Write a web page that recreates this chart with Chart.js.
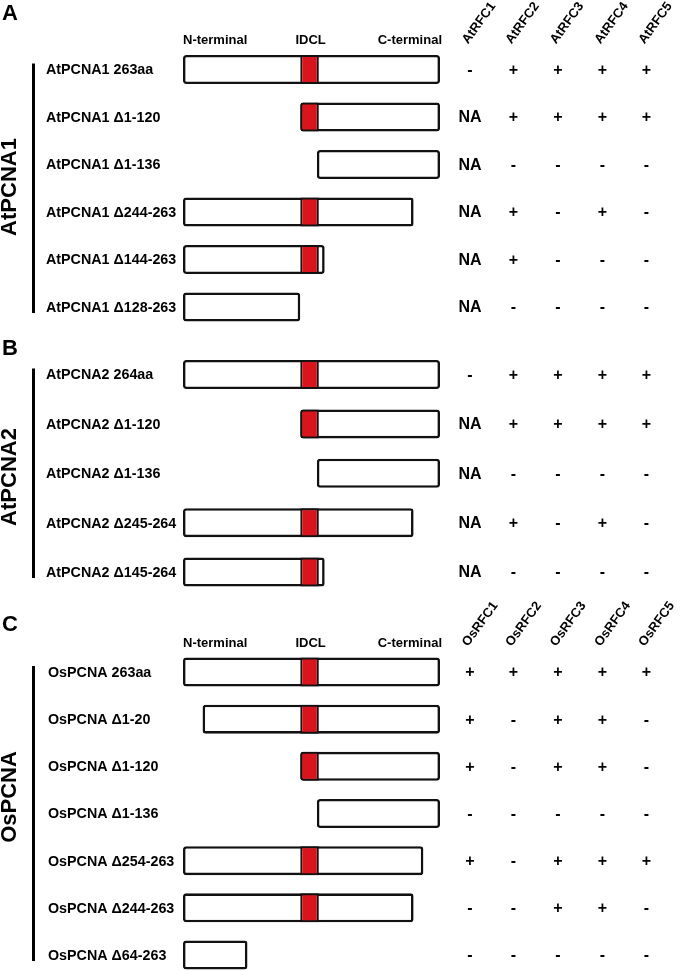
<!DOCTYPE html>
<html>
<head>
<meta charset="utf-8">
<script src="https://cdn.jsdelivr.net/npm/chart.js@4.4.1/dist/chart.umd.min.js"></script>
<style>
  html, body { margin: 0; padding: 0; background: #fff; }
  #wrap { position: relative; width: 685px; height: 971px; }
  canvas { position: absolute; left: 0; }
</style>
</head>
<body>
<div id="wrap">
  <canvas id="panelA" width="685" height="340" style="top:0"></canvas>
  <canvas id="panelB" width="685" height="260" style="top:340px"></canvas>
  <canvas id="panelC" width="685" height="371" style="top:600px"></canvas>
</div>
<script>
// residue extents as drawn in the figure
const IDCL = [120, 139]
const atRFC = ['AtRFC1', 'AtRFC2', 'AtRFC3', 'AtRFC4', 'AtRFC5']
const osRFC = ['OsRFC1', 'OsRFC2', 'OsRFC3', 'OsRFC4', 'OsRFC5']

const labelsA = ['AtPCNA1 263aa', 'AtPCNA1 Δ1-120', 'AtPCNA1 Δ1-136', 'AtPCNA1 Δ244-263', 'AtPCNA1 Δ144-263', 'AtPCNA1 Δ128-263']
const startA = [0, 120, 137, 0, 0, 0]
const endA = [263, 263, 263, 236, 145, 120]
const bindA = [
  ['-', '+', '+', '+', '+'],
  ['NA', '+', '+', '+', '+'],
  ['NA', '-', '-', '-', '-'],
  ['NA', '+', '-', '+', '-'],
  ['NA', '+', '-', '-', '-'],
  ['NA', '-', '-', '-', '-']
]

const labelsB = ['AtPCNA2 264aa', 'AtPCNA2 Δ1-120', 'AtPCNA2 Δ1-136', 'AtPCNA2 Δ245-264', 'AtPCNA2 Δ145-264']
const startB = [0, 120, 137, 0, 0]
const endB = [263, 263, 263, 236, 145]
const bindB = [
  ['-', '+', '+', '+', '+'],
  ['NA', '+', '+', '+', '+'],
  ['NA', '-', '-', '-', '-'],
  ['NA', '+', '-', '+', '-'],
  ['NA', '-', '-', '-', '-']
]

const labelsC = ['OsPCNA 263aa', 'OsPCNA Δ1-20', 'OsPCNA Δ1-120', 'OsPCNA Δ1-136', 'OsPCNA Δ254-263', 'OsPCNA Δ244-263', 'OsPCNA Δ64-263']
const startC = [0, 20, 120, 137, 0, 0, 0]
const endC = [263, 263, 263, 263, 246, 236, 66]
const bindC = [
  ['+', '+', '+', '+', '+'],
  ['+', '-', '+', '+', '-'],
  ['+', '-', '+', '+', '-'],
  ['-', '-', '-', '-', '-'],
  ['+', '-', '+', '+', '+'],
  ['-', '-', '+', '+', '-'],
  ['-', '-', '-', '-', '-']
]

const FONT = '"Liberation Sans", Arial, Helvetica, sans-serif'
const RED = '#d8151d'
const colX = [470, 513.5, 558, 602.5, 646.5]

const panelDecor = {
  id: 'panelDecor',
  afterDatasetsDraw(chart, args, o) {
    const { ctx, scales: { x, y } } = chart
    const n = chart.data.labels.length
    const top = y.getPixelForValue(0)
    const bot = y.getPixelForValue(n - 1)
    ctx.save()
    ctx.fillStyle = '#000'

    // panel letter
    ctx.font = 'bold 22px ' + FONT
    ctx.textAlign = 'left'
    ctx.textBaseline = 'middle'
    ctx.fillText(o.letter, 2, o.letterY)

    // group bracket + rotated name
    ctx.fillRect(32, top - 6, 3, bot - top + 12)
    ctx.save()
    ctx.translate(10, o.nameY)
    ctx.rotate(-Math.PI / 2)
    ctx.textAlign = 'center'
    ctx.font = 'bold 22px ' + FONT
    ctx.fillText(o.name, 0, 0)
    ctx.restore()

    // construct names
    ctx.font = 'bold 14.3px ' + FONT
    ctx.textAlign = 'left'
    chart.data.labels.forEach((lab, i) => {
      ctx.fillText(lab, o.labelX, y.getPixelForValue(i) + 1)
    })

    // domain header
    if (o.header) {
      ctx.font = 'bold 13px ' + FONT
      const hy = top - 29
      ctx.textAlign = 'left'
      ctx.fillText('N-terminal', x.getPixelForValue(0), hy)
      ctx.textAlign = 'center'
      ctx.fillText('IDCL', x.getPixelForValue((IDCL[0] + IDCL[1]) / 2) + 1, hy)
      ctx.textAlign = 'right'
      ctx.fillText('C-terminal', x.getPixelForValue(263) + 2, hy)
    }

    // rotated RFC column names
    if (o.cols) {
      ctx.font = 'bold 13px ' + FONT
      ctx.textAlign = 'left'
      ctx.textBaseline = 'alphabetic'
      o.cols.forEach((c, j) => {
        ctx.save()
        ctx.translate(colX[j] - 2, top - 25)
        ctx.rotate(-54 * Math.PI / 180)
        ctx.fillText(c, 0, 0)
        ctx.restore()
      })
    }

    // interaction table
    ctx.textAlign = 'center'
    ctx.textBaseline = 'middle'
    ctx.font = 'bold 16px ' + FONT
    o.bind.forEach((row, i) => {
      const py = y.getPixelForValue(i)
      row.forEach((v, j) => {
        ctx.fillText(v, colX[j], py + 1)
      })
    })
    ctx.restore()
  }
}

function idclPart(starts, ends) {
  return starts.map((s, i) => (s <= IDCL[0] && ends[i] >= IDCL[1]) ? [IDCL[0], IDCL[1]] : null)
}

function makePanel(id, labels, starts, ends, bind, pad, decor) {
  const boxes = starts.map((s, i) => [s, ends[i]])
  return new Chart(document.getElementById(id), {
    type: 'bar',
    plugins: [panelDecor],
    data: {
      labels: labels,
      datasets: [{
        label: 'IDCL',
        data: idclPart(starts, ends),
        backgroundColor: RED,
        borderColor: '#111',
        borderWidth: 2,
        borderSkipped: false,
        borderRadius: (c) => starts[c.dataIndex] === IDCL[0] ? { topLeft: 3, bottomLeft: 3, topRight: 0, bottomRight: 0 } : 0,
        barThickness: 29,
        grouped: false,
        inflateAmount: 0,
        clip: false,
        order: 1
      }, {
        label: 'construct',
        data: boxes,
        backgroundColor: '#fff',
        borderColor: '#111',
        borderWidth: 2.6,
        borderSkipped: false,
        borderRadius: 3,
        barThickness: 29,
        grouped: false,
        inflateAmount: 0,
        clip: false,
        order: 2
      }]
    },
    options: {
      indexAxis: 'y',
      responsive: false,
      animation: false,
      events: [],
      layout: { padding: pad },
      scales: {
        x: { type: 'linear', min: 0, max: 263, display: false },
        y: { type: 'category', offset: false, display: false, grid: { offset: false } }
      },
      plugins: {
        legend: { display: false },
        tooltip: { enabled: false },
        panelDecor: Object.assign({ bind: bind }, decor)
      }
    }
  })
}

makePanel('panelA', labelsA, startA, endA, bindA,
  { left: 183, right: 245, top: 69.5, bottom: 33 },
  { letter: 'A', letterY: 14, name: 'AtPCNA1', nameY: 187, labelX: 46, header: true, cols: atRFC })

makePanel('panelB', labelsB, startB, endB, bindB,
  { left: 183, right: 245, top: 34.5, bottom: 28 },
  { letter: 'B', letterY: 9, name: 'AtPCNA2', nameY: 137, labelX: 46, header: false, cols: null })

makePanel('panelC', labelsC, startC, endC, bindC,
  { left: 183, right: 245, top: 72, bottom: 16 },
  { letter: 'C', letterY: 25, name: 'OsPCNA', nameY: 197, labelX: 48, header: true, cols: osRFC })
</script>
</body>
</html>
